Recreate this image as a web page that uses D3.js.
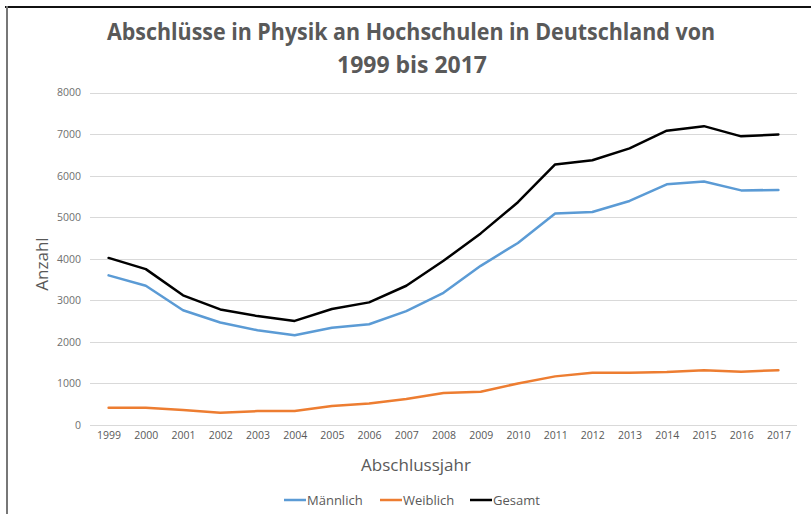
<!DOCTYPE html>
<html>
<head>
<meta charset="utf-8">
<script src="https://cdn.jsdelivr.net/npm/d3@7"></script>
<style>
    body { margin: 0; background: #fff; }
    text { font-family: "Open Sans", "Liberation Sans", sans-serif; }
</style>
</head>
<body>
<script>

let width = 811;
let height = 514;

// Data
let years = ["1999", "2000", "2001", "2002", "2003", "2004", "2005", "2006", "2007", "2008",
    "2009", "2010", "2011", "2012", "2013", "2014", "2015", "2016", "2017"];
let maennlich = [3600, 3350, 2760, 2465, 2280, 2160, 2340, 2425, 2740, 3180,
    3830, 4380, 5090, 5125, 5390, 5790, 5860, 5645, 5655];
let weiblich = [415, 415, 360, 295, 335, 335, 455, 520, 625, 770,
    800, 1000, 1170, 1255, 1255, 1275, 1320, 1280, 1320];
let gesamt = [4020, 3750, 3120, 2780, 2620, 2505, 2790, 2950, 3350, 3950,
    4610, 5360, 6270, 6370, 6655, 7080, 7190, 6945, 6990];
let yTicks = [0, 1000, 2000, 3000, 4000, 5000, 6000, 7000, 8000];
let seriesNames = ["Männlich", "Weiblich", "Gesamt"];
let seriesColors = ["#5b9bd5", "#ed7d31", "#000000"];

let series = [maennlich, weiblich, gesamt];

let svg = d3.select("body").append("svg")
    .attr("width", width)
    .attr("height", height);

// Frame (top and left edge of the screenshot)
svg.append("line")
    .attr("x1", 5).attr("x2", width)
    .attr("y1", 7).attr("y2", 7)
    .attr("stroke", "#111")
    .attr("stroke-width", 2);
svg.append("line")
    .attr("x1", 7).attr("x2", 7)
    .attr("y1", 6).attr("y2", height)
    .attr("stroke", "#777")
    .attr("stroke-width", 2);

// Title
svg.append("text")
    .attr("x", 411).attr("y", 40)
    .attr("text-anchor", "middle")
    .attr("font-size", 24)
    .attr("font-weight", "bold")
    .attr("fill", "#595959")
    .attr("textLength", 608)
    .attr("lengthAdjust", "spacingAndGlyphs")
    .text("Abschlüsse in Physik an Hochschulen in Deutschland von");
svg.append("text")
    .attr("x", 412).attr("y", 73)
    .attr("text-anchor", "middle")
    .attr("font-size", 24)
    .attr("font-weight", "bold")
    .attr("fill", "#595959")
    .attr("textLength", 150)
    .attr("lengthAdjust", "spacingAndGlyphs")
    .text("1999 bis 2017");

// Scales
let x = d3.scalePoint()
    .domain(years)
    .range([90, 797])
    .padding(0.5);

let y = d3.scaleLinear()
    .domain([0, 8000])
    .range([425, 92.5]);

// Gridlines
svg.append("g")
    .selectAll("line")
    .data(yTicks)
    .enter()
    .append("line")
    .attr("x1", 90).attr("x2", 797)
    .attr("y1", d => Math.round(y(d)) + 0.5)
    .attr("y2", d => Math.round(y(d)) + 0.5)
    .attr("stroke", "#d9d9d9")
    .attr("stroke-width", 1);

// Y axis labels
let yAxis = svg.append("g")
    .attr("transform", "translate(81,0)")
    .call(d3.axisLeft(y).tickValues(yTicks).tickFormat(d3.format("d")).tickSize(0).tickPadding(0));
yAxis.select(".domain").remove();
yAxis.selectAll("text")
    .attr("font-size", 10.5)
    .attr("fill", "#6f6f6f")
    .style("font-family", "\"Open Sans\", sans-serif");

// X axis labels
let xAxis = svg.append("g")
    .attr("transform", "translate(0,432)")
    .call(d3.axisBottom(x).tickSize(0).tickPadding(0));
xAxis.select(".domain").remove();
xAxis.selectAll("text")
    .attr("font-size", 10.5)
    .attr("fill", "#595959")
    .style("font-family", "\"Open Sans\", sans-serif");

// Axis titles
svg.append("text")
    .attr("x", 416).attr("y", 471)
    .attr("text-anchor", "middle")
    .attr("font-size", 17)
    .attr("fill", "#595959")
    .text("Abschlussjahr");
svg.append("text")
    .attr("transform", "translate(48,264) rotate(-90)")
    .attr("text-anchor", "middle")
    .attr("font-size", 17)
    .attr("fill", "#595959")
    .text("Anzahl");

// Lines
let line = d3.line()
    .x((d, i) => x(years[i]))
    .y(d => y(d));

svg.append("g")
    .selectAll("path")
    .data(series)
    .enter()
    .append("path")
    .attr("d", line)
    .attr("fill", "none")
    .attr("stroke", (d, i) => seriesColors[i])
    .attr("stroke-width", 2.5)
    .attr("stroke-linejoin", "round")
    .attr("stroke-linecap", "round");

// Legend
let legendX = [284, 380, 470];
let legend = svg.append("g")
    .selectAll("g")
    .data(seriesNames)
    .enter()
    .append("g")
    .attr("transform", (d, i) => "translate(" + legendX[i] + ",500)");
legend.append("line")
    .attr("x1", 0).attr("x2", 22)
    .attr("stroke", (d, i) => seriesColors[i])
    .attr("stroke-width", 2.5);
legend.append("text")
    .attr("x", 23).attr("y", 5)
    .attr("font-size", 13)
    .attr("fill", "#595959")
    .text(d => d);

</script>
</body>
</html>
